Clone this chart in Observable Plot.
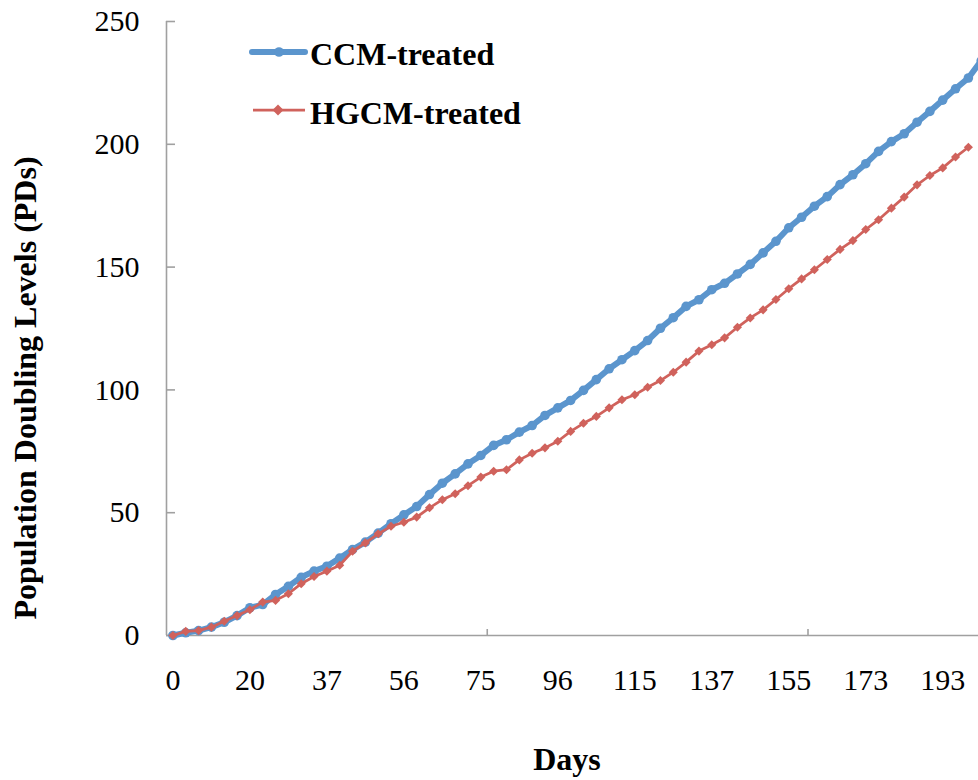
<!DOCTYPE html>
<html><head><meta charset="utf-8">
<script src="https://cdn.jsdelivr.net/npm/d3@7"></script>
<script src="https://cdn.jsdelivr.net/npm/@observablehq/plot@0.6"></script>
<style>
body{margin:0;background:#fff;overflow:hidden;}
#wrap{position:relative;width:978px;height:780px;overflow:hidden;background:#fff;}
#wrap svg{position:absolute;left:0;top:0;}
</style></head><body><div id="wrap"></div>
<script>
// Population doubling levels per passage (category index 0..63)
const ccm = [0, 1.1, 2.0, 3.4, 5.4, 8.1, 11.3, 12.6, 16.7, 20.0,
  23.7, 26.2, 28.2, 31.5, 35.0, 38.0, 41.7, 45.5, 49.1, 52.5,
  57.4, 62.0, 65.8, 69.9, 73.3, 77.4, 79.7, 82.8, 85.5, 89.6,
  92.7, 95.7, 99.8, 104.2, 108.6, 112.3, 116.0, 120.1, 125.1, 129.4,
  134.0, 136.7, 140.8, 143.4, 147.2, 151.1, 155.8, 160.5, 166.0, 170.3,
  174.8, 178.7, 183.6, 187.6, 192.1, 197.1, 201.1, 204.3, 209.0, 213.4,
  218.0, 222.6, 227.0, 234.0];
const hgcm = [0, 1.7, 2.0, 3.4, 5.8, 8.1, 10.5, 13.6, 14.3, 17.0,
  21.1, 24.0, 26.2, 28.6, 34.3, 37.7, 41.4, 44.5, 46.1, 48.2,
  52.0, 55.3, 57.7, 61.0, 64.5, 66.9, 67.5, 71.5, 74.2, 76.4,
  79.1, 83.1, 86.4, 89.2, 92.7, 96.0, 98.0, 101.1, 103.8, 107.2,
  111.3, 115.8, 118.4, 121.2, 125.5, 129.3, 132.6, 136.8, 141.2, 145.2,
  148.9, 153.1, 157.2, 160.8, 165.3, 169.3, 174.0, 178.5, 183.5, 187.3,
  190.4, 194.8, 198.8];
const dayLabels = ["0","20","37","56","75","96","115","137","155","173","193"];
const labelStep = 6;      // a day label every 6th category
const tickMarkStep = 25;  // a tick mark every 25 categories
const yTicks = [0, 50, 100, 150, 200, 250];
const seriesNames = ["CCM-treated", "HGCM-treated"];
const xTitle = "Days";
const yTitle = "Population Doubling Levels (PDs)";

const blue = "#5B95CD", red = "#D0625C", axisColor = "#A0A0A0";
const font = '"Liberation Serif","Times New Roman",serif';
const catW = 12.83;
const nCat = ccm.length;

const ccmRows = ccm.map((v, i) => ({i, v, s: seriesNames[0]}));
const hgcmRows = hgcm.map((v, i) => ({i, v, s: seriesNames[1]}));
const labelIdx = dayLabels.map((d, k) => k * labelStep);
const markIdx = d3.range(1, 4).map(k => k * tickMarkStep - 0.5);

const chart = Plot.plot({
  width: 978, height: 780,
  marginLeft: 166, marginRight: 0, marginTop: 21, marginBottom: 145,
  style: {fontFamily: font, fontSize: "30px", color: "#000", background: "transparent", overflow: "hidden"},
  x: {type: "linear", domain: [-0.5, nCat - 0.5], range: [166, 166 + nCat * catW]},
  y: {domain: [0, 250]},
  marks: [
    Plot.ruleX([-0.5], {stroke: axisColor, strokeWidth: 1.6}),
    Plot.ruleY([0], {stroke: axisColor, strokeWidth: 1.6}),
    Plot.axisY({ticks: yTicks, tickSize: 0, tickPadding: 27, label: null, fontSize: 30}),
    Plot.axisY({ticks: yTicks, tickSize: -9, tickFormat: () => "", stroke: axisColor, strokeWidth: 1.6, label: null}),
    Plot.axisX({ticks: labelIdx, tickSize: 0, tickPadding: 33, fontSize: 30,
      tickFormat: d => dayLabels[Math.round(d / labelStep)], label: null}),
    Plot.axisX({ticks: markIdx, tickSize: -6, tickFormat: () => "", stroke: axisColor, strokeWidth: 1.6, label: null}),
    Plot.line(ccmRows, {x: "i", y: "v", stroke: blue, strokeWidth: 6, strokeLinejoin: "round"}),
    Plot.dot(ccmRows, {x: "i", y: "v", r: 4.8, fill: blue, stroke: "none", symbol: "circle"}),
    Plot.line(hgcmRows, {x: "i", y: "v", stroke: red, strokeWidth: 2.75, strokeLinejoin: "round"}),
    Plot.dot(hgcmRows, {x: "i", y: "v", r: 4.1, fill: red, stroke: "none", symbol: "diamond2"})
  ]
});
const wrap = document.getElementById("wrap");
wrap.appendChild(chart);

// Titles and legend overlay
const ns = "http://www.w3.org/2000/svg";
const ov = document.createElementNS(ns, "svg");
ov.setAttribute("width", 978); ov.setAttribute("height", 780);
ov.style.fontFamily = font; ov.style.pointerEvents = "none";
function txt(s, attrs) {
  const t = document.createElementNS(ns, "text");
  for (const k in attrs) t.setAttribute(k, attrs[k]);
  t.textContent = s; ov.appendChild(t); return t;
}
function el(name, attrs) {
  const e = document.createElementNS(ns, name);
  for (const k in attrs) e.setAttribute(k, attrs[k]);
  ov.appendChild(e); return e;
}
txt(xTitle, {x: 567, y: 770, "text-anchor": "middle", "font-weight": "bold", "font-size": 32});
txt(yTitle, {transform: "translate(36,388) rotate(-90)", "text-anchor": "middle", "font-weight": "bold", "font-size": 32});
// legend
el("line", {x1: 252, x2: 305, y1: 52, y2: 52, stroke: blue, "stroke-width": 6, "stroke-linecap": "round"});
el("circle", {cx: 279, cy: 52, r: 4.8, fill: blue});
txt(seriesNames[0], {x: 310, y: 65, "font-weight": "bold", "font-size": 32});
el("line", {x1: 253, x2: 305, y1: 110, y2: 110, stroke: red, "stroke-width": 2.75});
el("path", {d: "M278,104.5L283.5,110L278,115.5L272.5,110Z", fill: red});
txt(seriesNames[1], {x: 310, y: 124, "font-weight": "bold", "font-size": 32});
wrap.appendChild(ov);
</script>
</body></html>
